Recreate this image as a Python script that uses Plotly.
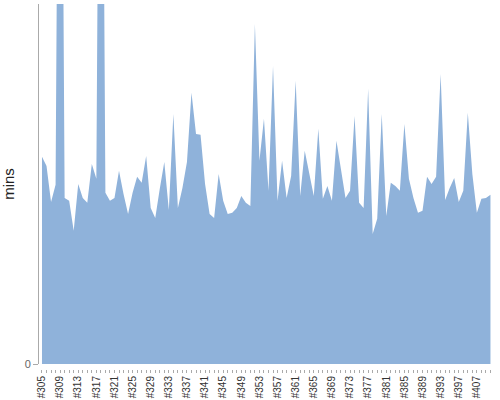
import plotly.graph_objects as go

builds = [f"#{n}" for n in range(305, 398)] + ["#399", "#401", "#404", "#407", "#408", "#409", "#410"]

mins = [51.8, 49.5, 40.5, 44.8, 230, 41.5, 40.8, 33.3, 45, 41.5,
        40.3, 50, 46.3, 228, 42.8, 40.8, 41.5, 48.3, 42.5, 37.5,
        42.8, 46.8, 45.3, 52, 39, 36.5, 43.8, 50.5, 38.5, 62.5,
        39, 44, 50.5, 67.8, 57.5, 57.3, 45, 37.5, 36.5, 47.5,
        40.8, 37.5, 37.8, 39, 42, 40.3, 39.5, 85, 50.8, 61.3,
        43.3, 74.5, 40.8, 50.8, 41.5, 47, 70.8, 42, 53.3, 47.8,
        42, 58.8, 41.3, 44.5, 40.8, 55.8, 48.3, 41.5, 43.3, 62,
        40.3, 39, 68.8, 32.5, 36.3, 62.5, 37, 45.3, 44.5, 43.3,
        60, 46.3, 41.5, 37.8, 38.3, 46.8, 45, 46.8, 72.5, 41,
        44, 46.5, 40.5, 43.3, 62.8, 47.5, 37.8, 41.3, 41.5, 42.3]

tick_text = [b if i % 4 == 0 else "" for i, b in enumerate(builds)]

fig = go.Figure(go.Scatter(
    x=builds, y=mins, mode="lines", fill="tozeroy",
    line=dict(width=0, color="#8fb2da"), fillcolor="#8fb2da",
    hoverinfo="x+y"))

fig.update_layout(
    width=500, height=400,
    margin=dict(l=39, r=8, t=4, b=31, autoexpand=False),
    paper_bgcolor="white", plot_bgcolor="white",
    showlegend=False,
    font=dict(family="Liberation Sans, Arial, sans-serif"),
    xaxis=dict(
        type="category", range=[-0.66, 99.34], automargin=False,
        tickmode="array", tickvals=builds, ticktext=tick_text,
        tickangle=-90, ticks="outside", ticklen=3, tickcolor="#aaaaaa",
        tickfont=dict(size=10, color="#333333"), ticklabelstandoff=-1,
        showline=False, showgrid=False, zeroline=False,
        anchor="free", position=0),
    yaxis=dict(
        domain=[0.0137, 1], range=[0, 90], automargin=False,
        tickvals=[0], ticktext=["0"], ticks="outside", ticklen=5,
        tickcolor="#aaaaaa", tickfont=dict(size=11, color="#666666"),
        showline=True, linecolor="#aaaaaa", linewidth=1,
        showgrid=False, zeroline=False,
        title=dict(text="mins", font=dict(size=15, color="#222222"), standoff=7)),
)

fig.write_html("out.html", config={"displayModeBar": False},
               post_script="document.body.style.margin='0';")
